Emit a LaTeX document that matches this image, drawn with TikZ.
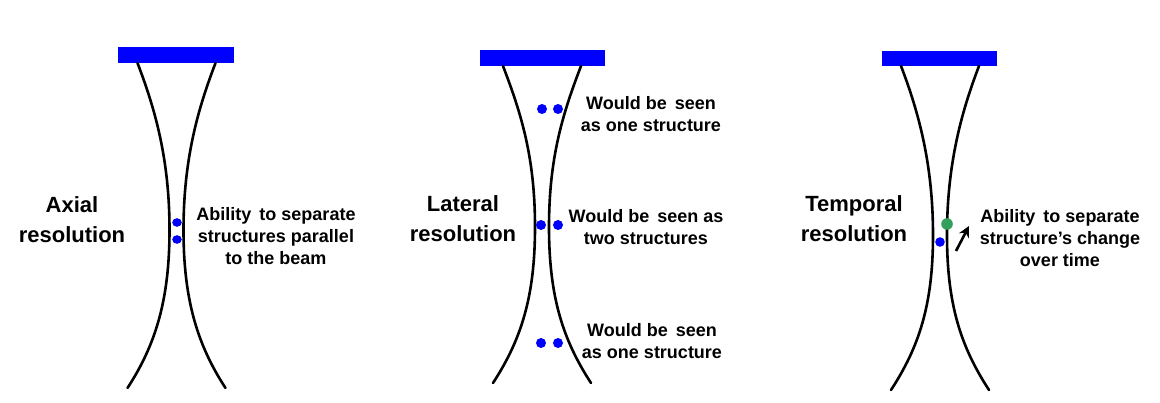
\documentclass[tikz,border=0pt]{standalone}
\usepackage{fontspec}
\setmainfont{Liberation Sans}
\usetikzlibrary{arrows.meta}
\definecolor{beamblue}{RGB}{0,0,255}
\definecolor{dotgreen}{RGB}{50,160,90}
\tikzset{
  beam/.style={line width=2.6pt, draw=black, line cap=round},
  plate/.style={fill=beamblue, draw=none},
  bluedot/.style={fill=beamblue, draw=none},
  greendot/.style={fill=dotgreen, draw=none},
  desc/.style={font=\bfseries\fontsize{18}{22}\selectfont, align=center, inner sep=0pt},
  title/.style={font=\bfseries\fontsize{22}{30}\selectfont, align=center, inner sep=0pt},
  pointer/.style={line width=2.6pt, -{Stealth[length=11pt,width=11pt]}}
}
% #1 center x, #2 top y, #3 waist y, #4 bottom y
\newcommand{\hourglass}[4]{%
  \draw[beam] ({#1-39},#2) .. controls ({#1-21},{#2+47}) and ({#1-7},{#3-70}) .. ({#1-7},#3)
     .. controls ({#1-7},{#3+70}) and ({#1-21},{#4-43}) .. ({#1-49},#4);
  \draw[beam] ({#1+39},#2) .. controls ({#1+21},{#2+47}) and ({#1+7},{#3-70}) .. ({#1+7},#3)
     .. controls ({#1+7},{#3+70}) and ({#1+21},{#4-43}) .. ({#1+49},#4);
}
\begin{document}
\begin{tikzpicture}[x=1pt,y=-1pt]
\useasboundingbox (0,0) rectangle (1160,403);
\fill[white] (0,0) rectangle (1160,403);

% Panel 1: axial
\fill[plate] (118,47) rectangle (234,63);
\hourglass{176.5}{63}{230}{388}
\fill[bluedot] (177,222.5) ellipse (4.8 and 4.3);
\fill[bluedot] (177,239.5) ellipse (4.8 and 4.3);
\node[title] (t1) at (72,220) {Axial\\resolution};
\node[desc] (d1) at (276,236) {Ability\, to separate\\structures parallel\\to the beam};

% Panel 2: lateral
\fill[plate] (480,50) rectangle (605,66);
\hourglass{542}{66}{227}{383}
\fill[bluedot] (542,109) circle (5);
\fill[bluedot] (558,109) circle (5);
\fill[bluedot] (541,225) circle (5);
\fill[bluedot] (558,225) circle (5);
\fill[bluedot] (541,343) circle (5);
\fill[bluedot] (558,343) circle (5);
\node[title] (t2) at (463,219) {Lateral\\resolution};
\node[desc] (d2a) at (651,114) {Would be\, seen\\as one structure};
\node[desc] (d2b) at (646,227) {Would be\, seen as\\two structures};
\node[desc] (d2c) at (652,341) {Would be\, seen\\as one structure};

% Panel 3: temporal
\fill[plate] (882,51) rectangle (997,66);
\hourglass{940}{66}{235}{390}
\fill[greendot] (947,224) circle (5.8);
\fill[bluedot] (940,242) circle (4.8);
\coordinate (a0) at (956,251);
\coordinate (a1) at (969,226);
\draw[pointer] (a0) -- (a1);
\node[title] (t3) at (854,219) {Temporal\\resolution};
\node[desc] (d3) at (1060,238) {Ability\, to separate\\structure’s change\\over time};
\end{tikzpicture}
\end{document}
